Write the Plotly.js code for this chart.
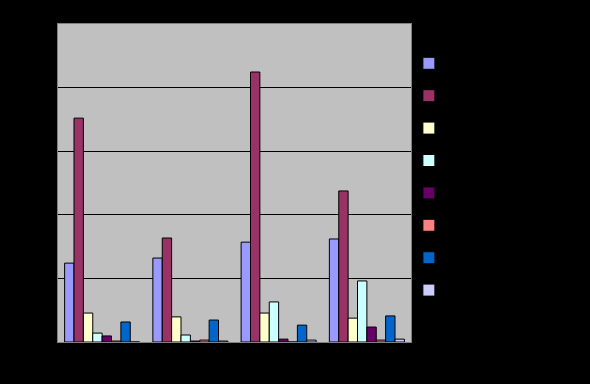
<!DOCTYPE html>
<html>
<head>
<meta charset="utf-8">
<script src="https://cdn.plot.ly/plotly-3.0.1.min.js"></script>
<style>html,body{margin:0;padding:0;background:#000;}#chart{width:590px;height:384px;}</style>
</head>
<body>
<div id="chart"></div>
<script>
var categories = ["Category 1", "Category 2", "Category 3", "Category 4"];
var seriesNames = ["Series 1", "Series 2", "Series 3", "Series 4", "Series 5", "Series 6", "Series 7", "Series 8"];
var series1 = [24.8, 26.4, 31.4, 32.4];
var series2 = [70.4, 32.7, 84.9, 47.5];
var series3 = [9.1, 7.9, 9.1, 7.5];
var series4 = [2.8, 2.2, 12.6, 19.2];
var series5 = [1.9, 0.3, 0.9, 4.7];
var series6 = [0.3, 0.6, 0, 0.6];
var series7 = [6.3, 6.9, 5.3, 8.2];
var series8 = [0, 0.3, 0.6, 0.9];
var colors = ["#9999ff", "#993366", "#ffffcc", "#ccffff", "#660066", "#ff8080", "#0066cc", "#ccccff"];
var allSeries = [series1, series2, series3, series4, series5, series6, series7, series8];

var traces = allSeries.map(function (vals, i) {
  return {
    type: "bar",
    name: seriesNames[i],
    x: categories,
    y: vals,
    legendgroup: "g" + i,
    marker: { color: colors[i], line: { color: "#000000", width: 1 } }
  };
});

var layout = {
  width: 590,
  height: 384,
  paper_bgcolor: "#000000",
  plot_bgcolor: "#c0c0c0",
  margin: { l: 58, r: 179, t: 24, b: 42 },
  barmode: "group",
  bargap: 0.15,
  bargroupgap: 0,
  font: { family: "Liberation Sans, Arial, sans-serif", size: 10, color: "#000000" },
  xaxis: {
    showgrid: false,
    zeroline: false,
    showline: true,
    linecolor: "#808080",
    linewidth: 1,
    mirror: true,
    tickfont: { color: "#000000" }
  },
  yaxis: {
    range: [0, 100],
    dtick: 20,
    showgrid: true,
    gridcolor: "#000000",
    gridwidth: 1,
    zeroline: false,
    showline: true,
    linecolor: "#808080",
    mirror: true,
    tickfont: { color: "#000000" }
  },
  showlegend: true,
  legend: {
    x: 0.994,
    xanchor: "left",
    y: 0.922,
    yanchor: "top",
    bgcolor: "rgba(0,0,0,0)",
    borderwidth: 0,
    tracegroupgap: 13.4,
    font: { size: 10, color: "#000000" }
  }
};

Plotly.newPlot("chart", traces, layout, { displayModeBar: false, staticPlot: true });
</script>
</body>
</html>
